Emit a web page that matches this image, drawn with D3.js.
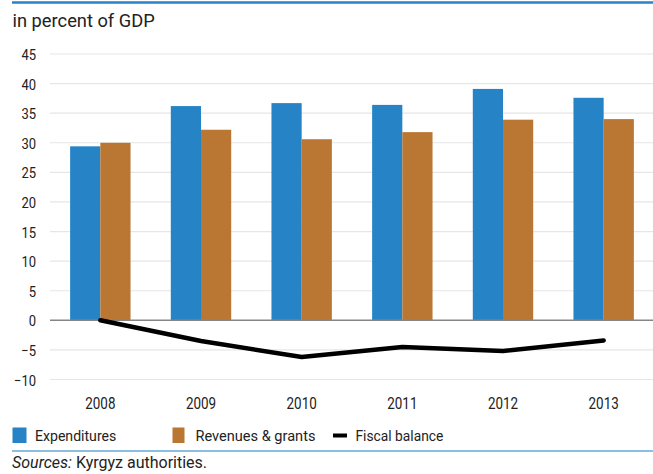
<!DOCTYPE html>
<html>
<head>
<meta charset="utf-8">
<script src="https://cdn.jsdelivr.net/npm/d3@7/dist/d3.min.js"></script>
<style>
  html, body { margin: 0; padding: 0; background: #fff; }
  svg { display: block; }
  text { font-family: Roboto, "Liberation Sans", sans-serif; fill: #222; }
</style>
</head>
<body>
<svg id="chart" width="653" height="474"></svg>
<script>
// Kyrgyz Republic: general government fiscal accounts, in percent of GDP
const years = ["2008", "2009", "2010", "2011", "2012", "2013"];
const expenditures = [29.4, 36.2, 36.7, 36.4, 39.1, 37.6];
const revenues = [30.0, 32.2, 30.6, 31.8, 33.9, 34.0];
const fiscalBalance = [0.0, -3.5, -6.2, -4.5, -5.2, -3.4];
const yTicks = [-10, -5, 0, 5, 10, 15, 20, 25, 30, 35, 40, 45];
const seriesNames = ["Expenditures", "Revenues & grants", "Fiscal balance"];

const colors = { exp: "#2583c6", rev: "#b97733", bal: "#000000" };

// condensed lettering: squeeze text horizontally about its anchor point
const NARROW = 0.84;
const narrow = (k) => `scale(${k},1)`;

const svg = d3.select("#chart");

const x = d3.scaleBand().domain(years).range([50, 654]).paddingInner(0.4).paddingOuter(0.2);
const xSub = d3.scaleBand().domain(["exp", "rev"]).range([0, x.bandwidth()]);
const y = d3.scaleLinear().domain([-10, 45]).range([379.5, 54]);

// rule across the top of the panel
svg.append("line").attr("x1", 12).attr("x2", 653).attr("y1", 2.5).attr("y2", 2.5)
  .attr("stroke", "#2a82c8").attr("stroke-width", 2.5);

svg.append("text").attr("x", 12.5).attr("y", 26.7).attr("font-size", 18.3).text("in percent of GDP");

// horizontal gridlines
svg.append("g").selectAll("line").data(yTicks.filter(d => d !== 0)).join("line")
  .attr("x1", 50).attr("x2", 653)
  .attr("y1", d => y(d)).attr("y2", d => y(d))
  .attr("stroke", "#e6e6e6").attr("stroke-width", 1.2);

// y axis labels
const yAxis = d3.axisLeft(y).tickValues(yTicks).tickSize(0).tickPadding(0);
svg.append("g").attr("transform", "translate(36,0)").call(yAxis)
  .call(g => g.select(".domain").remove())
  .call(g => g.selectAll("text").attr("font-size", 15.5).attr("fill", "#222")
    .attr("font-family", null).attr("dy", "0.36em").attr("transform", narrow(NARROW)));

// bars
const groups = svg.append("g").selectAll("g").data(years).join("g")
  .attr("transform", d => `translate(${x(d)},0)`);
groups.append("rect")
  .attr("x", xSub("exp")).attr("width", xSub.bandwidth())
  .attr("y", (d, i) => y(expenditures[i]))
  .attr("height", (d, i) => y(0) - y(expenditures[i]))
  .attr("fill", colors.exp);
groups.append("rect")
  .attr("x", xSub("rev")).attr("width", xSub.bandwidth())
  .attr("y", (d, i) => y(revenues[i]))
  .attr("height", (d, i) => y(0) - y(revenues[i]))
  .attr("fill", colors.rev);

// zero line
svg.append("line").attr("x1", 50).attr("x2", 653).attr("y1", y(0)).attr("y2", y(0))
  .attr("stroke", "#858585").attr("stroke-width", 1.5);

// fiscal balance line
const line = d3.line().x((d, i) => x(years[i]) + x.bandwidth() / 2).y(d => y(d));
svg.append("path").datum(fiscalBalance).attr("d", line)
  .attr("fill", "none").attr("stroke", colors.bal).attr("stroke-width", 4.5)
  .attr("stroke-linecap", "round").attr("stroke-linejoin", "round");

// x axis labels
const xAxis = d3.axisBottom(x).tickSize(0).tickPadding(0);
svg.append("g").attr("transform", "translate(0,409)").call(xAxis)
  .call(g => g.select(".domain").remove())
  .call(g => g.selectAll("text").attr("font-size", 16).attr("fill", "#222")
    .attr("font-family", null).attr("dy", 0).attr("transform", narrow(NARROW)));

// legend
const legend = svg.append("g");
const legendText = (x0, label, k) => legend.append("g").attr("transform", `translate(${x0},440.5)`)
  .append("text").attr("font-size", 15.5).attr("transform", narrow(k)).text(label);
legend.append("rect").attr("x", 12.5).attr("y", 427.5).attr("width", 14).attr("height", 15.5).attr("fill", colors.exp);
legendText(35, seriesNames[0], 0.91);
legend.append("rect").attr("x", 172.5).attr("y", 427.5).attr("width", 12).attr("height", 15.5).attr("fill", colors.rev);
legendText(195.5, seriesNames[1], 0.94);
legend.append("line").attr("x1", 333).attr("x2", 347).attr("y1", 435.5).attr("y2", 435.5)
  .attr("stroke", colors.bal).attr("stroke-width", 4);
legendText(355.5, seriesNames[2], 0.89);

// rule above the source note
svg.append("line").attr("x1", 12).attr("x2", 653).attr("y1", 451).attr("y2", 451)
  .attr("stroke", "#8cc0e2").attr("stroke-width", 2);

const src = svg.append("text").attr("x", 12).attr("y", 467.5).attr("font-size", 16);
src.append("tspan").attr("font-style", "italic").text("Sources:");
src.append("tspan").text(" Kyrgyz authorities.");
</script>
</body>
</html>
